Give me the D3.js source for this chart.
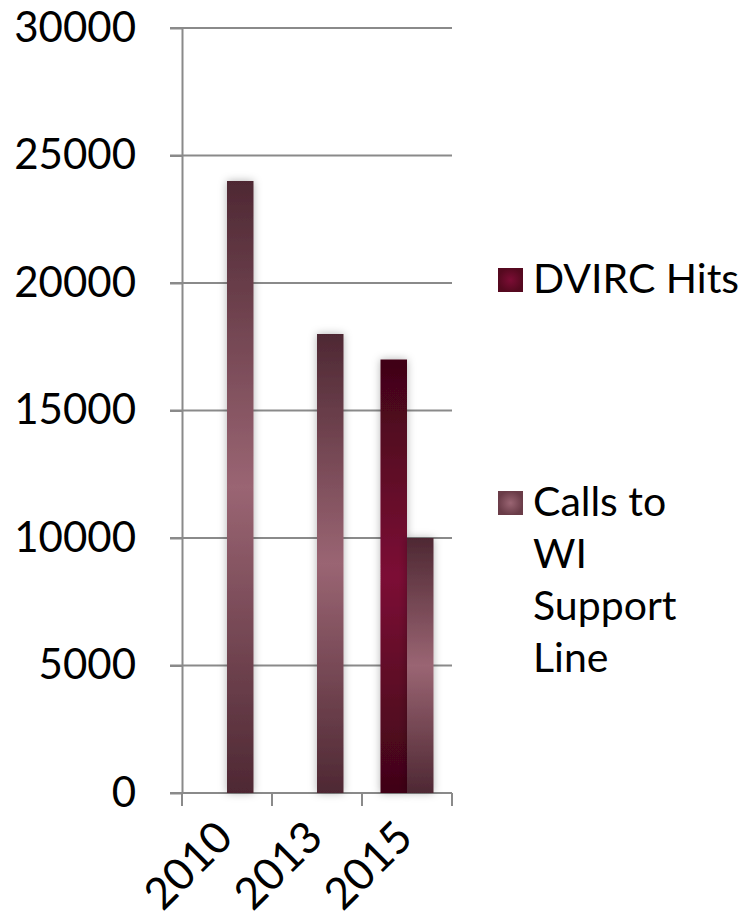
<!DOCTYPE html>
<html>
<head>
<meta charset="UTF-8">
<script src="https://cdn.jsdelivr.net/npm/d3@7"></script>
<style>
  body { margin: 0; background: #fff; }
  text { font-family: Lato, "Open Sans", sans-serif; fill: #000; }
</style>
</head>
<body>
<svg width="740" height="922"></svg>
<script>
var years = ["2010", "2013", "2015"];
var seriesNames = ["DVIRC Hits", "Calls to WI Support Line"];
var dvircHits = [0, 0, 17000];
var supportCalls = [24000, 18000, 10000];
var yTicks = [0, 5000, 10000, 15000, 20000, 25000, 30000];

var svg = d3.select("svg");
var defs = svg.append("defs");

// vertical gradients: dark ends, lighter middle
function addGrad(id, dark, light) {
  var gr = defs.append("linearGradient").attr("id", id)
    .attr("x1", 0).attr("y1", 0).attr("x2", 0).attr("y2", 1);
  gr.append("stop").attr("offset", "0%").attr("stop-color", dark);
  gr.append("stop").attr("offset", "50%").attr("stop-color", light);
  gr.append("stop").attr("offset", "100%").attr("stop-color", dark);
}
addGrad("g0", "#3f0517", "#7c0d35");
addGrad("g1", "#4e2833", "#9a6573");

var rg0 = defs.append("radialGradient").attr("id", "r0");
rg0.append("stop").attr("offset", "0%").attr("stop-color", "#7c0d35");
rg0.append("stop").attr("offset", "100%").attr("stop-color", "#55091f");
var rg1 = defs.append("radialGradient").attr("id", "r1");
rg1.append("stop").attr("offset", "0%").attr("stop-color", "#9a6573");
rg1.append("stop").attr("offset", "100%").attr("stop-color", "#6a3c48");

var f = defs.append("filter").attr("id", "sh")
  .attr("x", "-50%").attr("y", "-10%").attr("width", "200%").attr("height", "120%");
f.append("feDropShadow").attr("dx", 0).attr("dy", 0)
  .attr("stdDeviation", 4).attr("flood-color", "#000").attr("flood-opacity", 0.3);

var x = d3.scaleBand().domain(years).range([182, 452]);
var x1 = d3.scaleBand().domain([0, 1]).range([18.5, 71.5]);
var y = d3.scaleLinear().domain([0, 30000]).range([793, 28]);

var grey = "#8a8a8a";

// gridlines
svg.append("g").selectAll("line").data(yTicks).enter().append("line")
  .attr("x1", 170).attr("x2", 452)
  .attr("y1", function(d){ return y(d); })
  .attr("y2", function(d){ return y(d); })
  .attr("stroke", grey).attr("stroke-width", 2);

// y axis
var yAxis = svg.append("g").attr("transform", "translate(182,0)")
  .call(d3.axisLeft(y).tickValues(yTicks).tickSize(12).tickSizeOuter(0).tickPadding(34)
    .tickFormat(d3.format("d")));
yAxis.selectAll("path, line").attr("stroke", grey).attr("stroke-width", 2);
yAxis.selectAll("text").attr("font-size", 42).attr("font-family", "Lato, sans-serif");

// x axis ticks (band edges)
var edges = years.map(function(d){ return x(d); }).concat([x.range()[1]]);
svg.append("g").selectAll("line").data(edges).enter().append("line")
  .attr("x1", function(d){ return d; })
  .attr("x2", function(d){ return d; })
  .attr("y1", 793).attr("y2", 806)
  .attr("stroke", grey).attr("stroke-width", 2);

// bars
var data = [dvircHits, supportCalls];
var gs = svg.append("g");
data.forEach(function(vals, s) {
  gs.selectAll(".b" + s).data(vals).enter().append("rect")
    .attr("class", "b" + s)
    .attr("x", function(d, i){ return x(years[i]) + x1(s); })
    .attr("y", function(d){ return y(d); })
    .attr("width", x1.bandwidth())
    .attr("height", function(d){ return y(0) - y(d); })
    .attr("fill", "url(#g" + s + ")")
    .attr("filter", "url(#sh)")
    .style("display", function(d){ return d > 0 ? null : "none"; });
});

// x labels
svg.append("g").selectAll("text").data(years).enter().append("text")
  .attr("transform", function(d){ return "translate(" + (x(d) + x.bandwidth()/2 + 8) + ",840) rotate(-45)"; })
  .attr("text-anchor", "end")
  .attr("font-size", 44)
  .text(function(d){ return d; });

// legend
var lg = svg.append("g");
lg.append("rect").attr("x", 498).attr("y", 268).attr("width", 25).attr("height", 24)
  .attr("fill", "url(#r0)");
lg.append("text").attr("x", 533).attr("y", 293).attr("font-size", 41).text(seriesNames[0]);
lg.append("rect").attr("x", 498).attr("y", 491).attr("width", 25).attr("height", 24)
  .attr("fill", "url(#r1)");
var lines = ["Calls to", "WI", "Support", "Line"];
lg.append("text").attr("x", 533).attr("y", 516).attr("font-size", 41)
  .selectAll("tspan").data(lines).enter().append("tspan")
  .attr("x", 533).attr("dy", function(d, i){ return i ? 52 : 0; })
  .text(function(d){ return d; });
</script>
</body>
</html>
